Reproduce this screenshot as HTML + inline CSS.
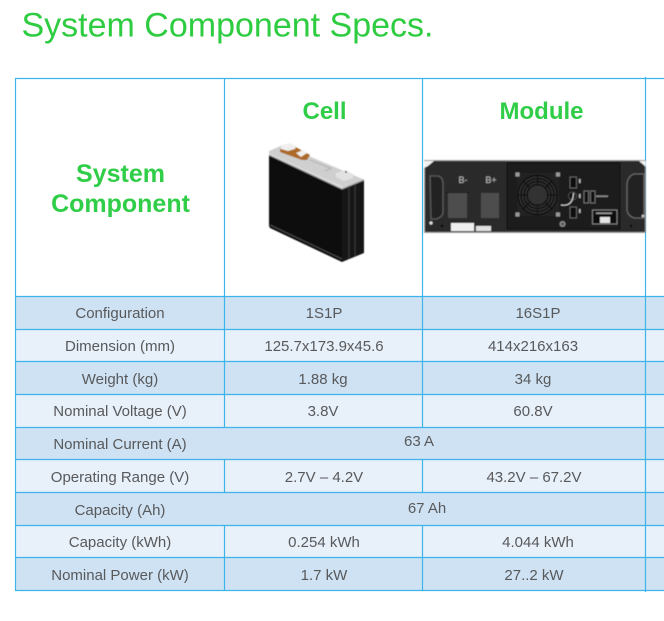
<!DOCTYPE html>
<html>
<head>
<meta charset="utf-8">
<style>
html,body{margin:0;padding:0;background:#fff;}
body{width:664px;height:621px;overflow:hidden;position:relative;}
svg{position:absolute;left:0;top:0;}
text{font-family:"Liberation Sans",Arial,sans-serif;}
.t{font-size:15px;fill:#58595b;text-anchor:middle;}
.h{font-weight:bold;fill:#30ce48;text-anchor:middle;}
</style>
</head>
<body>
<svg width="664" height="621" viewBox="0 0 664 621" xmlns="http://www.w3.org/2000/svg">
<defs>
<filter id="b" x="-5%" y="-5%" width="110%" height="110%"><feGaussianBlur stdDeviation="0.55"/></filter>
</defs>
<text x="21.5" y="36.5" font-size="34" fill="#2ecc40">System Component Specs.</text>

<!-- row bands -->
<rect x="16" y="296" width="648" height="33" fill="#cfe2f3"/>
<rect x="16" y="329" width="648" height="32" fill="#e8f0fa"/>
<rect x="16" y="361" width="648" height="33" fill="#cfe2f3"/>
<rect x="16" y="394" width="648" height="33" fill="#e8f0fa"/>
<rect x="16" y="427" width="648" height="32" fill="#cfe2f3"/>
<rect x="16" y="459" width="648" height="33" fill="#e8f0fa"/>
<rect x="16" y="492" width="648" height="33" fill="#cfe2f3"/>
<rect x="16" y="525" width="648" height="32" fill="#e8f0fa"/>
<rect x="16" y="557" width="648" height="33" fill="#cfe2f3"/>

<!-- grid -->
<g stroke="#3db4ea" stroke-width="1.2" fill="none">
<path d="M15 78.5H664M15 296.5H664M15 329.5H664M15 361.5H664M15 394.5H664M15 427.5H664M15 459.5H664M15 492.5H664M15 525.5H664M15 557.5H664M15 590.5H664"/>
<path d="M15.5 78V591M224.5 78V427M224.5 459V493M224.5 525V591M422.5 78V427M422.5 459V493M422.5 525V591M645.5 77V592"/>
</g>

<!-- headers -->
<text class="h" x="120.5" y="182" font-size="25">System</text>
<text class="h" x="120.5" y="212" font-size="25">Component</text>
<text class="h" x="324.5" y="119" font-size="24">Cell</text>
<text class="h" x="541.5" y="119" font-size="24">Module</text>

<!-- cell -->
<g filter="url(#b)">
<polygon points="269,151 283,145 365,180 342,188 269,155" fill="#cfcfcf"/>
<polygon points="269,155 342,189 342,262 270,228 269,226" fill="#0a0a0a"/>
<polygon points="342,189 364,180 364,253 342,262" fill="#171717"/>
<path d="M269 155L342 189L364 180" stroke="#9a9a9a" stroke-width="1.2" fill="none"/>
<path d="M269 154L342 187" stroke="#e6e6e6" stroke-width="0.8" fill="none"/>
<path d="M349 186V259M355 184V256" stroke="#444" stroke-width="0.8" fill="none"/>
<path d="M270 225L342 259" stroke="#4c4c4c" stroke-width="1" fill="none"/>
<path d="M310 160L330 168M325 171L332 168" stroke="#a8a8a8" stroke-width="0.7" fill="none"/>
<polygon points="280,149 292,145 310,155 307,160 302,160 280,152" fill="#ad6a28"/>
<polygon points="281,146 289,143 296,146 295,149 288,151 281,149" fill="#efefef"/>
<polygon points="296,153 303,150 307,153 301,157" fill="#f0f0f0"/>
<polygon points="336,173 345,170 353,174 353,178 344,181 336,177" fill="#e2e2e2"/>
<circle cx="346" cy="172" r="1" fill="#555"/>
</g>

<!-- module -->
<g filter="url(#b)">
<rect x="424" y="160" width="222" height="73" fill="#2a2a2a"/>
<rect x="424.5" y="160.5" width="221" height="72" fill="none" stroke="#a0a0a0" stroke-width="1"/>
<rect x="507" y="163" width="113" height="66" fill="#1a1a1a" stroke="#0b0b0b" stroke-width="1"/>
<polygon points="424,161 434,161 428,166 424,168" fill="#f2f2f2"/>
<polygon points="639,161 646,161 646,167" fill="#f2f2f2"/>
<!-- handles -->
<path d="M430 176H438Q443 177 443 184V212Q443 217 436 219H431Z" fill="#212121" stroke="#5a5a5a" stroke-width="1.3"/>
<path d="M644 174H634Q628 176 627 184V210Q628 216 634 218H644Z" fill="#212121" stroke="#666" stroke-width="1.3"/>
<circle cx="431" cy="223" r="1.6" fill="#ddd"/>
<circle cx="643" cy="216" r="1.4" fill="#ccc"/>
<circle cx="442" cy="226" r="1.2" fill="#000"/>
<circle cx="631" cy="226" r="1.2" fill="#000"/>
<!-- bus bars -->
<rect x="448" y="193" width="19" height="25" fill="#4d4d4d"/>
<rect x="481" y="193" width="18" height="25" fill="#4d4d4d"/>
<rect x="446" y="192" width="23" height="1" fill="#151515"/>
<text x="463" y="183" font-size="9" fill="#bdbdbd" text-anchor="middle">B-</text>
<text x="491" y="183" font-size="9" fill="#bdbdbd" text-anchor="middle">B+</text>
<!-- fan -->
<rect x="517" y="173" width="42" height="43" fill="#242424"/>
<circle cx="537.5" cy="195" r="20" fill="#333"/>
<g fill="none" stroke="#0c0c0c">
<circle cx="537.5" cy="195" r="19.5" stroke-width="1.4"/>
<circle cx="537.5" cy="195" r="16.5" stroke-width="1.4"/>
<circle cx="537.5" cy="195" r="13.5" stroke-width="1.4"/>
<circle cx="537.5" cy="195" r="10.5" stroke-width="1.4"/>
<path d="M537.5 175V186M537.5 204V215M517.5 195H528M547 195H557.5M523 181L530 188M545 202L552 209M552 181L545 188M530 202L523 209" stroke-width="1"/>
</g>
<circle cx="537.5" cy="195" r="8.5" fill="#333"/>
<rect x="515.5" y="172.5" width="4" height="4" fill="#999"/>
<rect x="556" y="172.5" width="4" height="4" fill="#999"/>
<rect x="515.5" y="212.5" width="4" height="4" fill="#999"/>
<rect x="556" y="212.5" width="4" height="4" fill="#999"/>
<!-- ports -->
<rect x="570" y="177" width="6.5" height="11" fill="#0a0a0a" stroke="#6a6a6a" stroke-width="0.9"/>
<rect x="570" y="207" width="6.5" height="11" fill="#0a0a0a" stroke="#6a6a6a" stroke-width="0.9"/>
<circle cx="572.5" cy="196" r="4" fill="#0d0d0d" stroke="#555" stroke-width="0.8"/>
<rect x="579" y="179" width="1.6" height="4" fill="#bbb"/>
<rect x="579" y="194" width="1.6" height="4" fill="#bbb"/>
<rect x="579" y="209" width="1.6" height="4" fill="#bbb"/>
<rect x="584" y="191" width="4.5" height="12" fill="#0a0a0a" stroke="#777" stroke-width="0.9"/>
<rect x="590.5" y="191" width="4.5" height="12" fill="#0a0a0a" stroke="#777" stroke-width="0.9"/>
<rect x="596" y="195.5" width="12" height="1.5" fill="#8a8a8a"/>
<path d="M561 205Q573 207 573.500 193" stroke="#dcdcdc" stroke-width="1.1" fill="none"/>
<rect x="592.500" y="210" width="24.500" height="14" fill="#0c0c0c" stroke="#999" stroke-width="0.8"/>
<rect x="600" y="217" width="10" height="6" fill="#e4e4e4"/>
<rect x="596" y="212.500" width="16" height="1.500" fill="#999"/>
<circle cx="562.500" cy="224" r="3" fill="#8a8a8a"/>
<circle cx="562.500" cy="224" r="1.200" fill="#333"/>
<rect x="451" y="223" width="23" height="8" fill="#f0f0f0"/>
<rect x="476" y="226" width="15" height="5" fill="#e2e2e2"/>
</g>

<!-- rows -->
<text class="t" x="120" y="318">Configuration</text>
<text class="t" x="324" y="318">1S1P</text>
<text class="t" x="538" y="318">16S1P</text>

<text class="t" x="120" y="351">Dimension (mm)</text>
<text class="t" x="324" y="351">125.7x173.9x45.6</text>
<text class="t" x="533" y="351">414x216x163</text>

<text class="t" x="120" y="384">Weight (kg)</text>
<text class="t" x="323" y="384">1.88 kg</text>
<text class="t" x="533" y="384">34 kg</text>

<text class="t" x="120" y="416">Nominal Voltage (V)</text>
<text class="t" x="323" y="416">3.8V</text>
<text class="t" x="533" y="416">60.8V</text>

<text class="t" x="120" y="449">Nominal Current (A)</text>
<text class="t" x="419" y="446">63 A</text>

<text class="t" x="120" y="482">Operating Range (V)</text>
<text class="t" x="324" y="482">2.7V – 4.2V</text>
<text class="t" x="534" y="482">43.2V – 67.2V</text>

<text class="t" x="120" y="515">Capacity (Ah)</text>
<text class="t" x="427" y="513">67 Ah</text>

<text class="t" x="120" y="547">Capacity (kWh)</text>
<text class="t" x="324" y="547">0.254 kWh</text>
<text class="t" x="538" y="547">4.044 kWh</text>

<text class="t" x="120" y="580">Nominal Power (kW)</text>
<text class="t" x="324" y="580">1.7 kW</text>
<text class="t" x="534" y="580">27..2 kW</text>
</svg>
</body>
</html>
